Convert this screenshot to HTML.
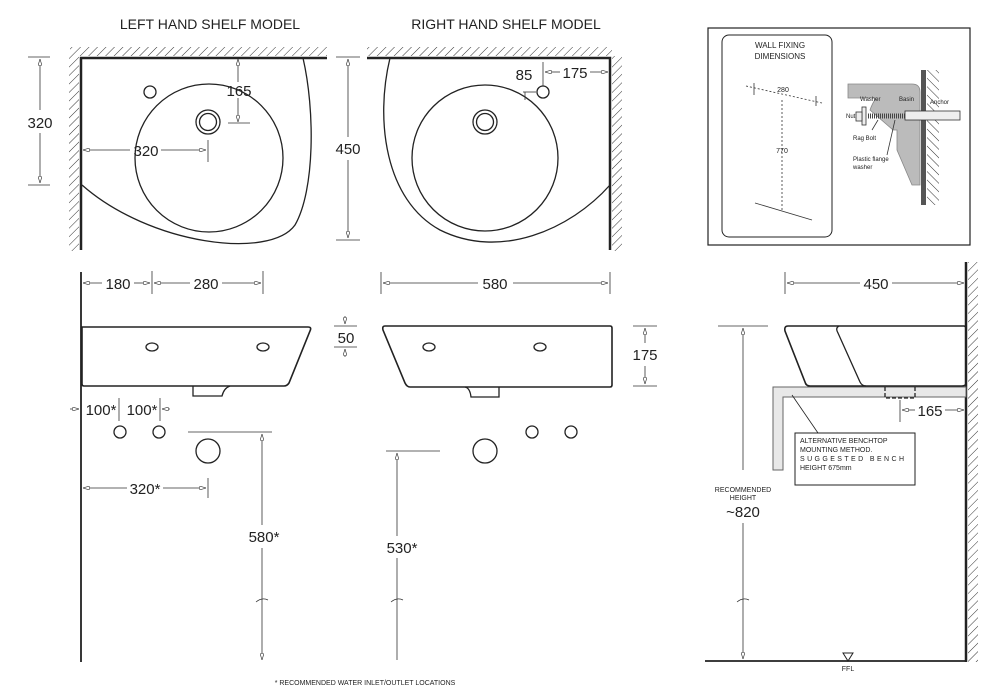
<!DOCTYPE html>
<html><head><meta charset="utf-8"><style>
html,body{margin:0;padding:0;background:#fff}
svg{display:block;font-family:"Liberation Sans",Arial,sans-serif}
</style></head><body>
<svg width="1002" height="700" viewBox="0 0 1002 700" xmlns="http://www.w3.org/2000/svg">
<defs>
<pattern id="h" width="6" height="6" patternUnits="userSpaceOnUse" patternTransform="rotate(45)">
<line x1="0" y1="0" x2="0" y2="6" stroke="#333" stroke-width="1"/></pattern>
<pattern id="h2" width="6" height="6" patternUnits="userSpaceOnUse" patternTransform="rotate(-45)">
<line x1="0" y1="0" x2="0" y2="6" stroke="#333" stroke-width="1"/></pattern>
<marker id="a" viewBox="0 0 10 6" refX="10" refY="3" markerWidth="8" markerHeight="5" orient="auto-start-reverse"><path d="M0,0 L10,3 L0,6 Z" fill="#fff" stroke="#333" stroke-width="1"/></marker>
</defs>
<g fill="#222" font-size="14">
<text x="210" y="29" text-anchor="middle">LEFT HAND SHELF MODEL</text>
<text x="506" y="29" text-anchor="middle">RIGHT HAND SHELF MODEL</text>
</g>
<g stroke="#222" fill="none" stroke-width="1.3">
<!-- left top view -->
<rect x="70" y="47" width="257" height="9" fill="url(#h)" stroke="none"/>
<rect x="69" y="56" width="10" height="195" fill="url(#h)" stroke="none"/>
<path d="M81 250 V58 H327" stroke-width="2.5"/>
<path d="M303 58 C315 110 315 190 295 225 C270 260 150 245 82 185"/>
<circle cx="209" cy="158" r="74"/>
<circle cx="208" cy="122" r="12"/><circle cx="208" cy="122" r="8.5"/>
<circle cx="150" cy="92" r="6"/>
<!-- right top view -->
<rect x="367" y="47" width="245" height="9" fill="url(#h)" stroke="none"/>
<rect x="612" y="56" width="10" height="195" fill="url(#h)" stroke="none"/>
<path d="M367 58 H610 V250" stroke-width="2.5"/>
<path d="M390 58 C375 120 385 200 440 230 C500 260 570 230 610 185"/>
<circle cx="485" cy="158" r="73"/>
<circle cx="485" cy="122" r="12"/><circle cx="485" cy="122" r="8.5"/>
<circle cx="543" cy="92" r="6"/>
<!-- left front -->
<line x1="81" y1="272" x2="81" y2="662" stroke-width="1.8"/>
<path d="M82 327 H308 Q312 327 310 331 L289 383 Q287 386 284 386 H84 Q82 386 82 384 Z" stroke-width="1.6"/>
<ellipse cx="152" cy="347" rx="6" ry="4"/><ellipse cx="263" cy="347" rx="6" ry="4"/>
<path d="M193 386 V396 H222 Q224 388 230 386"/>
<circle cx="120" cy="432" r="6"/><circle cx="159" cy="432" r="6"/>
<circle cx="208" cy="451" r="12"/>
<!-- right front -->
<path d="M385 326 H610 Q612 326 612 328 V385 Q612 387 610 387 H410 Q407 387 405 383 L383 330 Q382 326 385 326 Z" stroke-width="1.6"/>
<ellipse cx="429" cy="347" rx="6" ry="4"/><ellipse cx="540" cy="347" rx="6" ry="4"/>
<path d="M465 387 Q470 388 471 397 H499 V387"/>
<circle cx="532" cy="432" r="6"/><circle cx="571" cy="432" r="6"/>
<circle cx="485" cy="451" r="12"/>
<!-- side view -->
<rect x="968" y="262" width="10" height="400" fill="url(#h)" stroke="none"/>
<line x1="966" y1="262" x2="966" y2="662" stroke-width="2.5"/>
<line x1="705" y1="661" x2="966" y2="661" stroke-width="1.8"/>
<path d="M773 387 H966 V397 H783 V470 H773 Z" fill="#e8e8e8" stroke="#666" stroke-width="1"/>
<path d="M788 326 H964 Q966 326 966 330 V383 Q966 386 962 386 H810 Q806 386 805 382 L785 331 Q784 326 788 326 Z" stroke-width="1.6"/>
<path d="M839 326 Q835 328 838 333 L860 382 Q862 386 866 386"/>
<path d="M885 387 V398 H915 V387" stroke-dasharray="4,2" stroke-width="1.3"/>
<rect x="795" y="433" width="120" height="52" stroke-width="1"/>
<line x1="792" y1="395" x2="818" y2="433" stroke-width="0.8"/>
<path d="M843 653 H853 L848 661 Z" stroke-width="1"/>
<!-- wall fixing box -->
<rect x="708" y="28" width="262" height="217" stroke-width="1.2"/>
<rect x="722" y="35" width="110" height="202" rx="7" stroke-width="1"/>
</g>
<!-- wall fixing detail -->
<g stroke="#333" stroke-width="0.8" fill="none">
<line x1="746" y1="86" x2="822" y2="103" stroke-dasharray="2,2"/>
<line x1="754" y1="83" x2="754" y2="95"/><line x1="816" y1="96" x2="816" y2="106"/>
<line x1="782" y1="100" x2="782" y2="212" stroke-dasharray="2,2"/>
<line x1="755" y1="203" x2="812" y2="220"/>
<path d="M848 84 H912 Q920 84 920 92 V185 H912 L897 150 V130 H893 L870 110 Q872 104 876 98 H848 Z" fill="#bbb" stroke="#888"/>
<rect x="921" y="70" width="5" height="135" fill="#555" stroke="none"/>
<rect x="927" y="70" width="12" height="135" fill="url(#h2)" stroke="none"/>
<line x1="868" y1="116" x2="905" y2="116" stroke="#444" stroke-width="5" stroke-dasharray="1,1"/>
<rect x="905" y="111" width="55" height="9" fill="#eee"/>
<rect x="862" y="107" width="4" height="18" fill="#eee"/>
<rect x="856" y="112" width="6" height="9" fill="#eee"/>
<line x1="878" y1="120" x2="872" y2="130"/><line x1="895" y1="120" x2="887" y2="155"/>
</g>
<g fill="#222" font-size="8" text-anchor="middle">
<text x="780" y="48">WALL FIXING</text><text x="780" y="59">DIMENSIONS</text>
<text x="783" y="92" font-size="7">280</text><text x="782" y="153" font-size="7">770</text>
</g>
<g fill="#222" font-size="6">
<text x="860" y="101">Washer</text><text x="899" y="101">Basin</text><text x="930" y="104">Anchor</text>
<text x="846" y="118">Nut</text><text x="853" y="140">Rag Bolt</text>
<text x="853" y="161">Plastic flange</text><text x="853" y="169">washer</text>
</g>
<!-- dimensions -->
<g stroke="#333" stroke-width="0.8" fill="none">
<!-- left top dims -->
<line x1="28" y1="57" x2="50" y2="57"/><line x1="28" y1="185" x2="50" y2="185"/>
<line x1="40" y1="59" x2="40" y2="110" marker-start="url(#a)"/><line x1="40" y1="133" x2="40" y2="183" marker-end="url(#a)"/>
<line x1="238" y1="59" x2="238" y2="82" marker-start="url(#a)"/><line x1="238" y1="98" x2="238" y2="122" marker-end="url(#a)"/>
<line x1="228" y1="123" x2="250" y2="123"/>
<line x1="83" y1="150" x2="130" y2="150" marker-start="url(#a)"/><line x1="161" y1="150" x2="206" y2="150" marker-end="url(#a)"/>
<line x1="208" y1="140" x2="208" y2="162"/>
<line x1="336" y1="57" x2="360" y2="57"/><line x1="336" y1="240" x2="360" y2="240"/>
<line x1="348" y1="59" x2="348" y2="137" marker-start="url(#a)"/><line x1="348" y1="160" x2="348" y2="238" marker-end="url(#a)"/>
<!-- right top dims -->
<line x1="543" y1="62" x2="543" y2="86"/>
<line x1="545" y1="72" x2="560" y2="72" marker-start="url(#a)"/><line x1="590" y1="72" x2="608" y2="72" marker-end="url(#a)"/>
<line x1="523" y1="92" x2="536" y2="92"/><line x1="525" y1="92" x2="525" y2="100"/>
<!-- front left dims -->
<line x1="152" y1="271" x2="152" y2="294"/><line x1="263" y1="271" x2="263" y2="294"/>
<line x1="83" y1="283" x2="102" y2="283" marker-start="url(#a)"/><line x1="134" y1="283" x2="150" y2="283" marker-end="url(#a)"/>
<line x1="154" y1="283" x2="190" y2="283" marker-start="url(#a)"/><line x1="222" y1="283" x2="261" y2="283" marker-end="url(#a)"/>
<line x1="334" y1="326" x2="357" y2="326"/><line x1="334" y1="347" x2="357" y2="347"/>
<line x1="345" y1="316" x2="345" y2="324" marker-end="url(#a)"/><line x1="345" y1="357" x2="345" y2="349" marker-end="url(#a)"/>
<line x1="70" y1="409" x2="79" y2="409" marker-end="url(#a)"/>
<line x1="119" y1="398" x2="119" y2="421"/><line x1="160" y1="398" x2="160" y2="421"/>
<line x1="170" y1="409" x2="162" y2="409" marker-end="url(#a)"/>
<line x1="188" y1="432" x2="272" y2="432"/>
<line x1="262" y1="434" x2="262" y2="525" marker-start="url(#a)"/><line x1="262" y1="548" x2="262" y2="660" marker-end="url(#a)"/>
<line x1="83" y1="488" x2="127" y2="488" marker-start="url(#a)"/><line x1="163" y1="488" x2="206" y2="488" marker-end="url(#a)"/>
<line x1="208" y1="478" x2="208" y2="498"/>
<path d="M256 602 Q262 597 268 600"/>
<!-- front right dims -->
<line x1="381" y1="272" x2="381" y2="294"/><line x1="610" y1="272" x2="610" y2="294"/>
<line x1="383" y1="283" x2="478" y2="283" marker-start="url(#a)"/><line x1="513" y1="283" x2="608" y2="283" marker-end="url(#a)"/>
<line x1="633" y1="326" x2="657" y2="326"/><line x1="633" y1="386" x2="657" y2="386"/>
<line x1="645" y1="328" x2="645" y2="343" marker-start="url(#a)"/><line x1="645" y1="366" x2="645" y2="384" marker-end="url(#a)"/>
<line x1="386" y1="451" x2="440" y2="451"/>
<line x1="397" y1="453" x2="397" y2="536" marker-start="url(#a)"/><line x1="397" y1="558" x2="397" y2="660"/>
<path d="M391 602 Q397 597 403 600"/>
<!-- side dims -->
<line x1="785" y1="272" x2="785" y2="294"/>
<line x1="787" y1="283" x2="860" y2="283" marker-start="url(#a)"/><line x1="892" y1="283" x2="964" y2="283" marker-end="url(#a)"/>
<line x1="718" y1="326" x2="768" y2="326"/>
<line x1="743" y1="328" x2="743" y2="470" marker-start="url(#a)"/><line x1="743" y1="523" x2="743" y2="659" marker-end="url(#a)"/>
<path d="M737 602 Q743 597 749 600"/>
<line x1="900" y1="400" x2="900" y2="422"/>
<line x1="902" y1="410" x2="915" y2="410" marker-start="url(#a)"/><line x1="945" y1="410" x2="964" y2="410" marker-end="url(#a)"/>
</g>
<g fill="#222" font-size="15" text-anchor="middle">
<text x="40" y="128">320</text>
<text x="239" y="96">165</text>
<text x="146" y="156">320</text>
<text x="348" y="154">450</text>
<text x="524" y="80">85</text>
<text x="575" y="78">175</text>
<text x="118" y="289">180</text>
<text x="206" y="289">280</text>
<text x="346" y="343">50</text>
<text x="101" y="415">100*</text>
<text x="142" y="415">100*</text>
<text x="145" y="494">320*</text>
<text x="264" y="542">580*</text>
<text x="495" y="289">580</text>
<text x="645" y="360">175</text>
<text x="402" y="553">530*</text>
<text x="876" y="289">450</text>
<text x="930" y="416">165</text>
<text x="743" y="517">~820</text>
</g>
<g fill="#222" font-size="7">
<text x="743" y="492" text-anchor="middle">RECOMMENDED</text>
<text x="743" y="500" text-anchor="middle">HEIGHT</text>
<text x="848" y="671" text-anchor="middle">FFL</text>
<text x="800" y="443">ALTERNATIVE BENCHTOP</text>
<text x="800" y="452">MOUNTING METHOD.</text>
<text x="800" y="461" letter-spacing="2.4">SUGGESTED BENCH</text>
<text x="800" y="470">HEIGHT 675mm</text>
<text x="365" y="685" text-anchor="middle">* RECOMMENDED WATER INLET/OUTLET LOCATIONS</text>
</g>
</svg>
</body></html>
